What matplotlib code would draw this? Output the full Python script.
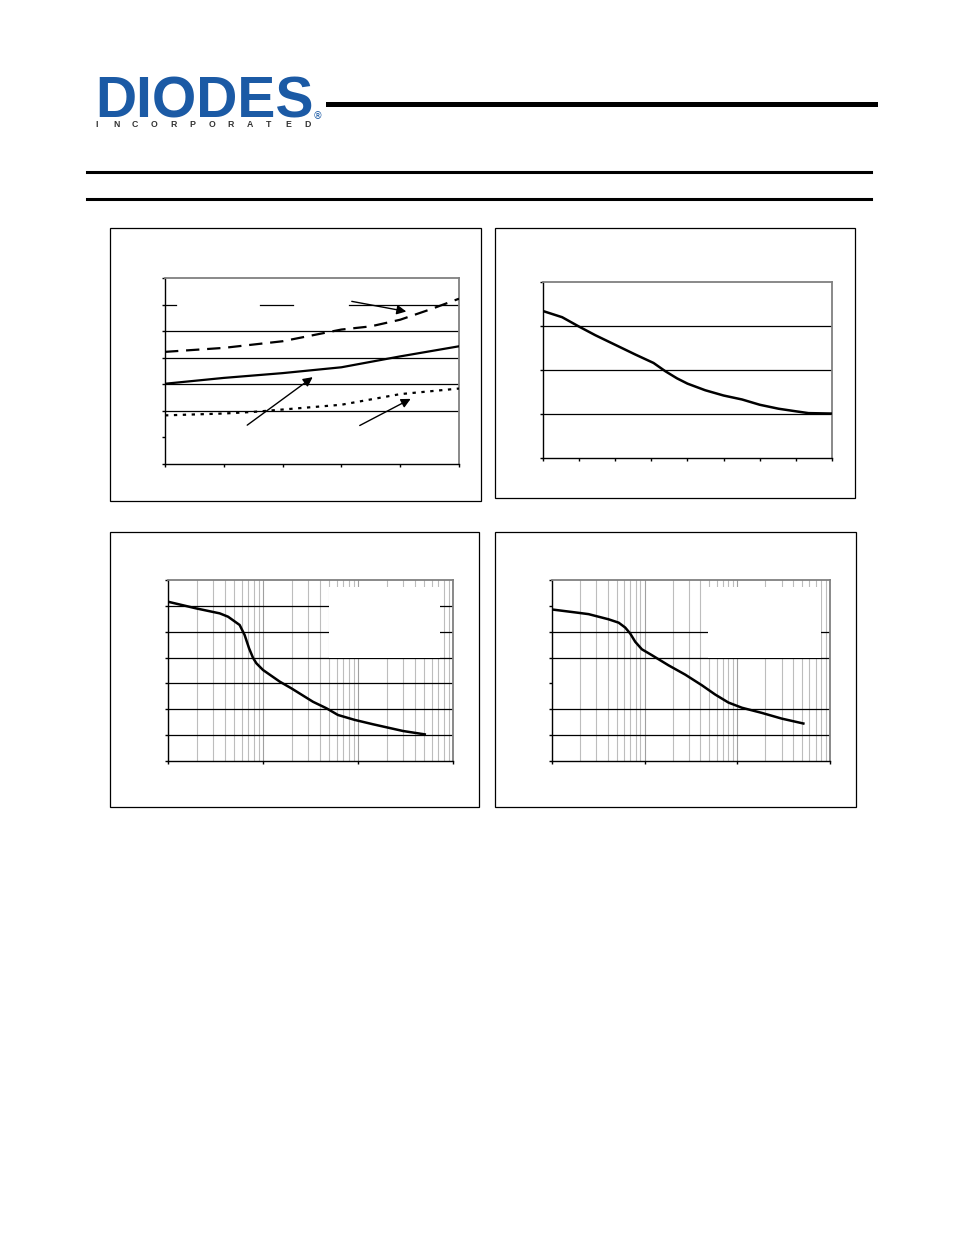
import matplotlib
matplotlib.use('Agg')
import matplotlib.pyplot as plt
from matplotlib.patches import Rectangle

W, H = 954, 1235

# panel 1: three curves vs linear x
p1_x = [0, 1, 2, 3, 3.5, 4, 4.5, 5]
p1_dashed = [4.22, 4.37, 4.62, 5.06, 5.18, 5.43, 5.81, 6.22]
p1_x_solid = [0, 1, 2, 3, 4, 5]
p1_solid = [3.02, 3.24, 3.42, 3.64, 4.05, 4.43]
p1_x_dot = [0, 1, 1.5, 2, 3, 4, 5]
p1_dotted = [1.83, 1.90, 1.96, 2.05, 2.23, 2.63, 2.84]

# panel 2
p2_x = [0, 0.53, 0.99, 1.45, 1.98, 2.56, 3.06, 3.39, 3.71, 4.0, 4.49, 5.0,
        5.51, 6.0, 6.52, 7.01, 7.35, 8.0]
p2_y = [3.34, 3.20, 2.99, 2.79, 2.58, 2.35, 2.16, 1.97, 1.81, 1.69, 1.54, 1.42,
        1.33, 1.21, 1.12, 1.06, 1.02, 1.01]

# panel 3 (log x)
p3_x = [1, 1.99, 3.5, 4.29, 5.68, 6.41, 7.13, 7.85, 8.51, 10, 15, 19.9, 33.6,
        46.5, 61.5, 92.3, 144, 298, 504]
p3_y = [6.16, 5.90, 5.71, 5.58, 5.26, 4.87, 4.36, 3.99, 3.78, 3.52, 3.07, 2.81,
        2.29, 2.04, 1.78, 1.59, 1.42, 1.16, 1.03]

# panel 4 (log x)
p4_x = [1, 1.94, 2.48, 4.08, 5.24, 6.17, 6.98, 7.91, 9.33, 12.0, 18.1, 27.4,
        41.4, 57.7, 80.2, 112, 184, 301, 516]
p4_y = [5.86, 5.73, 5.68, 5.48, 5.35, 5.16, 4.93, 4.61, 4.32, 4.09, 3.70, 3.34,
        2.93, 2.57, 2.26, 2.06, 1.86, 1.64, 1.45]

fig = plt.figure(figsize=(W/100, H/100), dpi=100)


def frac_box(l, t, r, b):
    return [l/W, 1-b/H, (r-l)/W, (b-t)/H]


def outer_box(l, t, r, b):
    fig.patches.append(Rectangle((l/W, 1-b/H), (r-l)/W, (b-t)/H,
                                 transform=fig.transFigure, fill=False,
                                 edgecolor='k', linewidth=0.9))


def hline_px(y, x0, x1, lw):
    fig.add_artist(plt.Line2D([x0/W, x1/W], [1-y/H, 1-y/H], color='k',
                              linewidth=lw, transform=fig.transFigure))


def style_axes(ax):
    for s in ['top', 'right']:
        ax.spines[s].set_color('#808080')
        ax.spines[s].set_linewidth(1.3)
    for s in ['left', 'bottom']:
        ax.spines[s].set_color('k')
        ax.spines[s].set_linewidth(1.0)
    ax.tick_params(direction='out', length=2.5, width=1.0, labelleft=False,
                   labelbottom=False, top=False, right=False)
    ax.tick_params(which='minor', length=0)


# header / logo
fig.text(95/W, 1-118/H, 'DIODES', fontsize=41, fontweight='bold',
         family='Liberation Sans', color='#1b5aa5', va='baseline', ha='left')
fig.text(313/W, 1-119/H, '\u00ae', fontsize=7, color='#1b5aa5',
         va='baseline', ha='left')
letters = 'INCORPORATED'
for i, ch in enumerate(letters):
    fig.text((97 + i*19.1)/W, 1-124.5/H, ch, fontsize=6.3, fontweight='bold',
             family='Liberation Sans', color='#333333', ha='center', va='center')
hline_px(104, 328, 875, 3.6)
hline_px(172, 87, 871, 2.2)
hline_px(199, 87, 871, 2.2)

outer_box(110, 228, 481, 501)
outer_box(495, 228, 855, 498)
outer_box(110, 532, 479, 807)
outer_box(495, 532, 856, 807)

# ---- panel 1
ax1 = fig.add_axes(frac_box(165, 278, 459, 464))
ax1.set_xlim(0, 5)
ax1.set_ylim(0, 7)
ax1.set_xticks(range(6))
ax1.set_yticks(range(8))
for g in [2, 3, 4, 5]:
    ax1.axhline(g, color='k', lw=0.9, zorder=1)
for a, b in [(0, 0.037), (0.323, 0.435), (0.626, 1.0)]:
    ax1.axhline(6, a, b, color='k', lw=0.9, zorder=1)
ax1.plot(p1_x, p1_dashed, color='k', lw=1.6, dashes=(6, 3.5), zorder=3)
ax1.plot(p1_x_solid, p1_solid, color='k', lw=1.6, zorder=3)
ax1.plot(p1_x_dot, p1_dotted, color='k', lw=1.6, dashes=(1.5, 2.5), zorder=3)
arr = dict(arrowstyle='-|>', color='k', lw=1.0, mutation_scale=14)
ax1.annotate('', xy=(2.55, 3.33), xytext=(1.36, 1.40), arrowprops=arr)
ax1.annotate('', xy=(4.22, 2.50), xytext=(3.27, 1.40), arrowprops=arr)
ax1.annotate('', xy=(4.15, 5.72), xytext=(3.13, 6.14), arrowprops=arr)
style_axes(ax1)

# ---- panel 2
ax2 = fig.add_axes(frac_box(543, 282, 832, 458))
ax2.set_xlim(0, 8)
ax2.set_ylim(0, 4)
ax2.set_xticks(range(9))
ax2.set_yticks(range(5))
for g in [1, 2, 3]:
    ax2.axhline(g, color='k', lw=0.9, zorder=1)
ax2.plot(p2_x, p2_y, color='k', lw=1.8, zorder=3)
style_axes(ax2)


def log_panel(box, xs, ys, grids, wbox):
    ax = fig.add_axes(frac_box(*box))
    ax.set_xscale('log')
    ax.set_xlim(1, 1000)
    ax.set_ylim(0, 7)
    ax.set_xticks([1, 10, 100, 1000])
    ax.set_yticks(range(8))
    ax.set_xticks([m*10**d for d in range(3) for m in range(2, 10)], minor=True)
    ax.grid(which='minor', axis='x', color='#bdbdbd', lw=0.8, zorder=0)
    ax.grid(which='major', axis='x', color='#a0a0a0', lw=0.8, zorder=0)
    for g in grids:
        ax.axhline(g, color='k', lw=0.9, zorder=1)
    ax.add_patch(Rectangle((wbox[0], wbox[1]), wbox[2]-wbox[0], wbox[3]-wbox[1],
                           transform=ax.transAxes, facecolor='white',
                           edgecolor='none', zorder=2))
    ax.plot(xs, ys, color='k', lw=1.8, zorder=3)
    style_axes(ax)
    ax.set_axisbelow(True)
    return ax


log_panel((168, 580, 453, 761), p3_x, p3_y, [1, 2, 3, 4, 5, 6],
          (0.565, 0.569, 0.954, 0.961))
log_panel((552, 580, 830, 761), p4_x, p4_y, [1, 2, 4, 5],
          (0.561, 0.569, 0.968, 0.961))

fig.savefig('out.png', dpi=100)
